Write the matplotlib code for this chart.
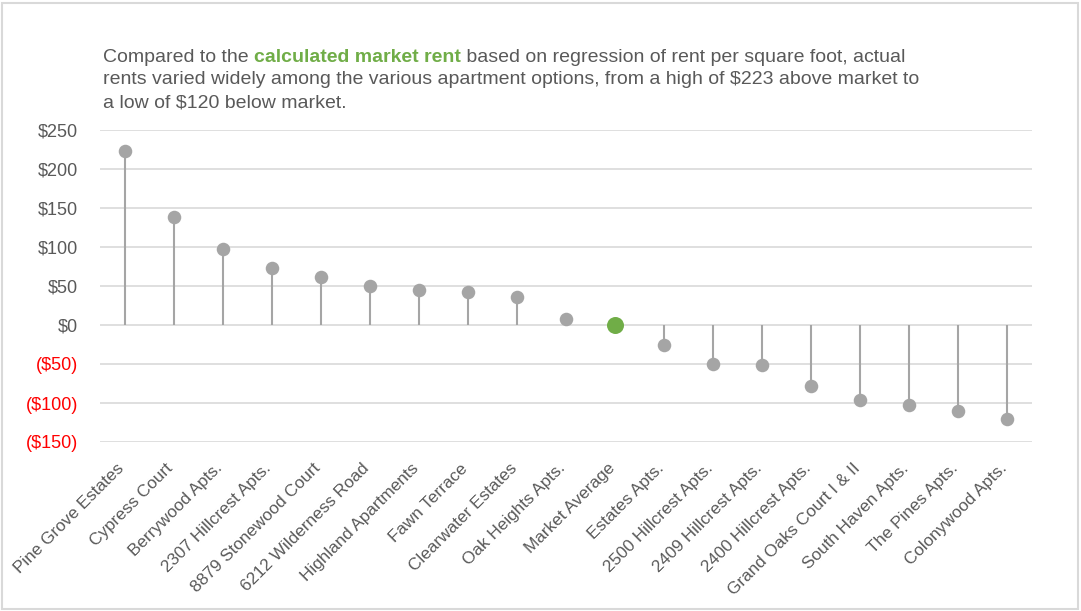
import matplotlib
matplotlib.use("Agg")
import matplotlib.pyplot as plt
from matplotlib.patches import Rectangle
from matplotlib.ticker import FuncFormatter
from matplotlib.transforms import ScaledTranslation

plt.rcParams['font.family'] = ['Liberation Sans', 'DejaVu Sans']

apartments = ["Pine Grove Estates", "Cypress Court", "Berrywood Apts.", "2307 Hillcrest Apts.",
              "8879 Stonewood Court", "6212 Wilderness Road", "Highland Apartments", "Fawn Terrace",
              "Clearwater Estates", "Oak Heights Apts.", "Market Average", "Estates Apts.",
              "2500 Hillcrest Apts.", "2409 Hillcrest Apts.", "2400 Hillcrest Apts.",
              "Grand Oaks Court I & II", "South Haven Apts.", "The Pines Apts.", "Colonywood Apts."]
diff_from_market = [223, 139, 97, 73, 61, 50, 45, 42, 36, 8, 0, -25, -50, -51, -78, -96, -103, -110, -120]
y_ticks = [-150, -100, -50, 0, 50, 100, 150, 200, 250]

GRAY = "#A5A5A5"
GREEN = "#70AD47"
TEXT = "#595959"

fig = plt.figure(figsize=(10.81, 6.11), dpi=100)
ax = fig.add_axes([100 / 1081, 1 - 442 / 611, 932 / 1081, 312 / 611])

x = list(range(len(apartments)))
avg_idx = apartments.index("Market Average")
for i, v in zip(x, diff_from_market):
    if i == avg_idx:
        continue
    ax.plot([i, i], [0, v], color=GRAY, lw=1.5, zorder=2, solid_capstyle='butt')
    ax.scatter(i, v, s=95, color=GRAY, zorder=3, linewidths=0)
ax.scatter(avg_idx, diff_from_market[avg_idx], s=150, color=GREEN, zorder=4, linewidths=0)

ax.set_xlim(-0.5, len(apartments) - 0.5)
ax.set_ylim(-150, 250)
ax.set_yticks(y_ticks)


def money(v, pos):
    return f"${v:.0f}" if v >= 0 else f"(${-v:.0f})"


ax.yaxis.set_major_formatter(FuncFormatter(money))
ax.grid(axis='y', color="#D9D9D9", lw=1.2, zorder=0)
ax.set_axisbelow(True)
for s in ax.spines.values():
    s.set_visible(False)
ax.tick_params(axis='y', length=0, pad=16, labelsize=13, labelcolor=TEXT)
for lab, v in zip(ax.get_yticklabels(), y_ticks):
    if v < 0:
        lab.set_color("#FF0000")

ax.set_xticks(x)
ax.set_xticklabels(apartments, rotation=45, ha='right', va='top', rotation_mode='anchor',
                   fontsize=12.3, color=TEXT)
ax.tick_params(axis='x', length=0, pad=12)
shift = ScaledTranslation(-8 / 100, -2 / 100, fig.dpi_scale_trans)
for lab in ax.get_xticklabels():
    lab.set_transform(lab.get_transform() + shift)

# Caption with a bold green phrase inline on the first line
fs = 14
lines = [
    [("Compared to the ", TEXT, 'normal'), ("calculated market rent", GREEN, 'bold'),
     (" based on regression of rent per square foot, actual", TEXT, 'normal')],
    [("rents varied widely among the various apartment options, from a high of $223 above market to", TEXT, 'normal')],
    [("a low of $120 below market.", TEXT, 'normal')],
]
fig.canvas.draw()
renderer = fig.canvas.get_renderer()
y0 = 1 - 57 / 611
for li, parts in enumerate(lines):
    xpos = 103 / 1081
    ypos = y0 - li * 23 / 611
    for txt, col, wt in parts:
        t = fig.text(xpos, ypos, txt, color=col, fontweight=wt, fontsize=fs, va='center', ha='left')
        bb = t.get_window_extent(renderer=renderer)
        xpos += bb.width / fig.bbox.width

fig.patches.append(Rectangle((2 / 1081, 2 / 611), 1076 / 1081, 606 / 611, transform=fig.transFigure,
                             fill=False, edgecolor="#D9D9D9", lw=1.5))

fig.savefig("out.png", dpi=100)
